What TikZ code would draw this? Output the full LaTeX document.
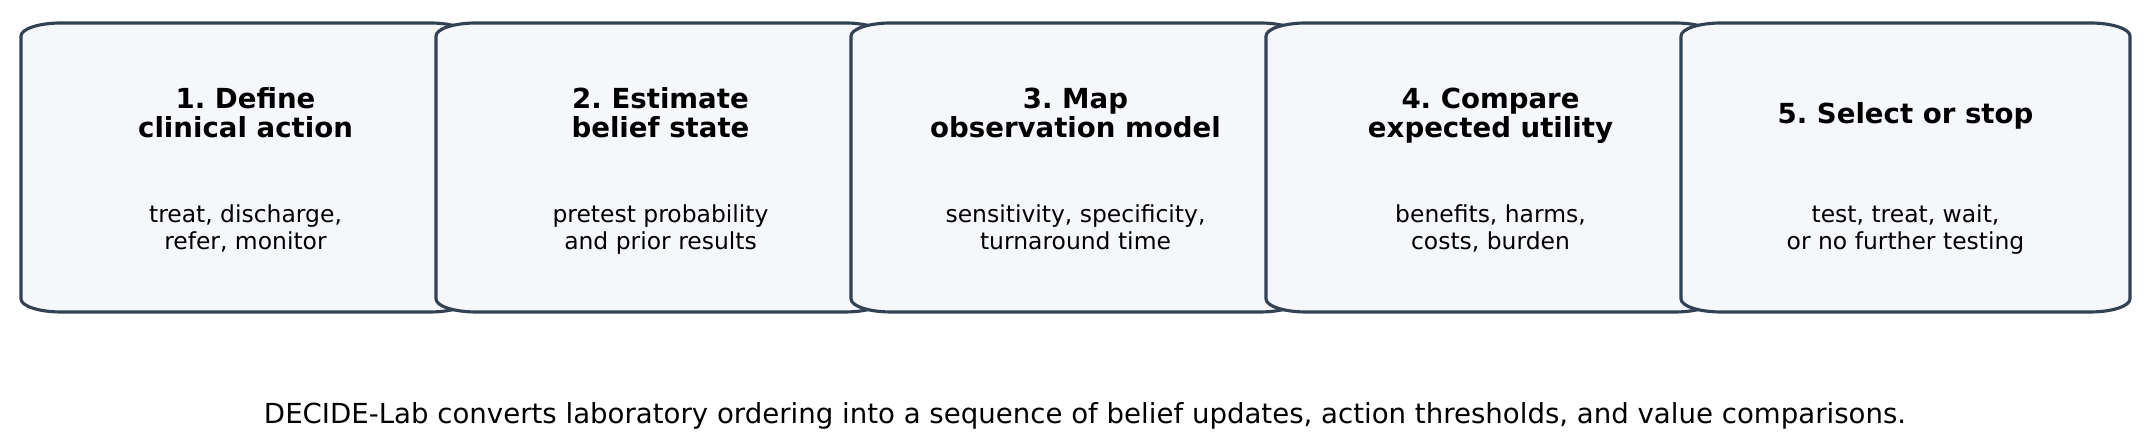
\documentclass[tikz,border=0pt]{standalone}
\usepackage{fontspec}
\setmainfont{DejaVu Sans}
\usetikzlibrary{positioning}
\usepackage{xcolor}
\definecolor{frameline}{HTML}{334155}
\definecolor{framefill}{HTML}{F5F7FA}
\newcommand{\cornx}{19.2pt}
\newcommand{\corny}{6.3pt}
\frenchspacing

\begin{document}
\begin{tikzpicture}[
    x=0.48pt, y=0.48pt,
    node distance=0pt and -16.32pt,
    boxarea/.style={minimum width=215.52pt, minimum height=138.72pt, inner sep=0pt, outer sep=0pt},
    frame/.style={draw=frameline, fill=framefill, line width=1.5pt},
    strutted/.style={execute at begin node=\strut, execute at end node=\strut},
    title/.style={strutted, align=center, font=\fontsize{13.25}{14.2}\selectfont\bfseries, inner sep=0pt},
    desc/.style={strutted, align=center, font=\fontsize{11.25}{13}\selectfont, inner sep=0pt},
    caption/.style={font=\fontsize{13.25}{15}\selectfont, inner sep=0pt}
  ]
  \useasboundingbox (0,0) rectangle (2150,448);
  \node[boxarea] (b1) at (245.5,280.5) {};
  \node[boxarea, right=of b1] (b2) {};
  \node[boxarea, right=of b2] (b3) {};
  \node[boxarea, right=of b3] (b4) {};
  \node[boxarea, right=of b4] (b5) {};
  % frames, left to right so each one covers the edge of the one before
  \foreach \i in {1,...,5}
    \draw[frame] ([xshift=\cornx]b\i.south west) -- ([xshift=-\cornx]b\i.south east)
      arc[start angle=-90, end angle=0, x radius=\cornx, y radius=\corny]
      -- ([yshift=-\corny]b\i.north east)
      arc[start angle=0, end angle=90, x radius=\cornx, y radius=\corny]
      -- ([xshift=\cornx]b\i.north west)
      arc[start angle=90, end angle=180, x radius=\cornx, y radius=\corny]
      -- ([yshift=\corny]b\i.south west)
      arc[start angle=180, end angle=270, x radius=\cornx, y radius=\corny]
      -- cycle;
  \node[title] (t1) at ([yshift=24.2pt]b1.center) {1. Define\\clinical action};
  \node[title] (t2) at ([yshift=24.2pt]b2.center) {2. Estimate\\belief state};
  \node[title] (t3) at ([yshift=24.2pt]b3.center) {3. Map\\observation model};
  \node[title] (t4) at ([yshift=24.2pt]b4.center) {4. Compare\\expected utility};
  \node[title] (t5) at ([yshift=24.2pt]b5.center) {5. Select or stop};
  \node[desc] (d1) at ([yshift=-30.7pt]b1.center) {treat, discharge,\\refer, monitor};
  \node[desc] (d2) at ([yshift=-30.7pt]b2.center) {pretest probability\\and prior results};
  \node[desc] (d3) at ([yshift=-30.7pt]b3.center) {sensitivity, specificity,\\turnaround time};
  \node[desc] (d4) at ([yshift=-30.7pt]b4.center) {benefits, harms,\\costs, burden};
  \node[desc] (d5) at ([yshift=-30.7pt]b5.center) {test, treat, wait,\\or no further testing};
  \node[caption] (cap) at (1085,32) {DECIDE-Lab converts laboratory ordering into a sequence of belief updates, action thresholds, and value comparisons.};
\end{tikzpicture}
\end{document}
